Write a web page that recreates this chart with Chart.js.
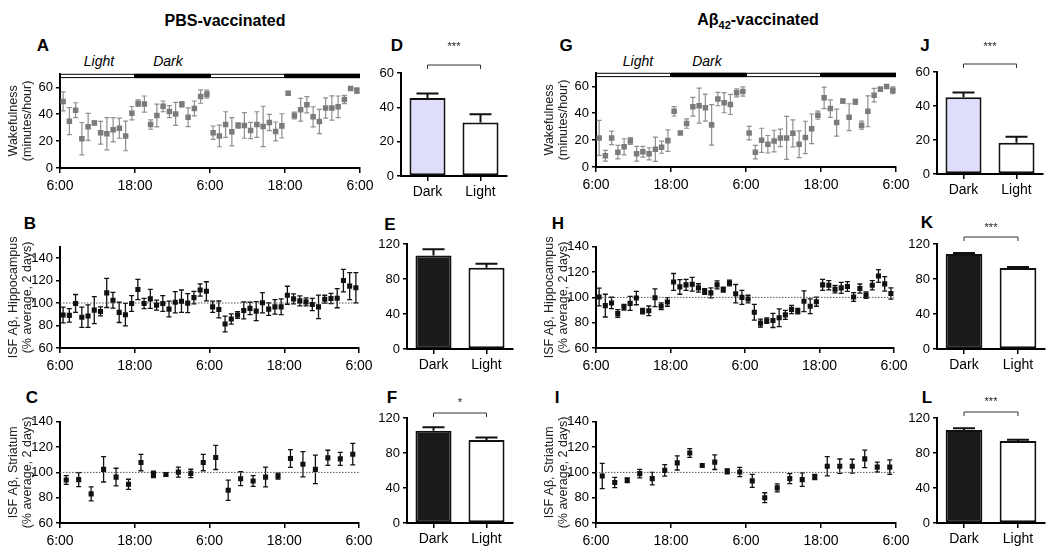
<!DOCTYPE html>
<html>
<head>
<meta charset="utf-8">
<script src="https://cdn.jsdelivr.net/npm/chart.js@4/dist/chart.umd.min.js"></script>
<style>
  body { margin: 0; width: 1050px; height: 548px; overflow: hidden; background: #fff; position: relative;
         font-family: 'Liberation Sans', Arial, sans-serif; }
  canvas { position: absolute; }
  .t { position: absolute; transform: translate(-50%, -50%); white-space: nowrap; color: #000; }
  .head { font-weight: bold; font-size: 16px; }
  .lbl { font-weight: bold; font-size: 17px; }
  .ld { font-style: italic; font-size: 14px; }
</style>
</head>
<body>
<div class="t head" style="left:225px;top:21px">PBS-vaccinated</div>
<div class="t head" style="left:758px;top:21px">Aβ<sub style="font-size:11px">42</sub>-vaccinated</div>

<div class="t lbl" style="left:43px;top:46px">A</div>
<div class="t lbl" style="left:30px;top:224px">B</div>
<div class="t lbl" style="left:32px;top:398px">C</div>
<div class="t lbl" style="left:397px;top:46px">D</div>
<div class="t lbl" style="left:390px;top:225px">E</div>
<div class="t lbl" style="left:392px;top:398px">F</div>
<div class="t lbl" style="left:566px;top:46px">G</div>
<div class="t lbl" style="left:558px;top:224px">H</div>
<div class="t lbl" style="left:557px;top:398px">I</div>
<div class="t lbl" style="left:925px;top:46px">J</div>
<div class="t lbl" style="left:927px;top:223px">K</div>
<div class="t lbl" style="left:927px;top:398px">L</div>

<div class="t ld" style="left:99px;top:61px">Light</div>
<div class="t ld" style="left:168px;top:61px">Dark</div>
<div class="t ld" style="left:638px;top:61px">Light</div>
<div class="t ld" style="left:707px;top:61px">Dark</div>

<script>
// time axis (hours from 6:00 on day 1)
const timeTicks = ['6:00', '18:00', '6:00', '18:00', '6:00'];
const phases = ['Light', 'Dark', 'Light', 'Dark'];
const phaseEdges = [0, 12, 24, 36, 48];
const wakeTicks = [0, 20, 40, 60];
const isfTicks = [60, 80, 100, 120, 140];

const hourly = [0.5, 1.5, 2.5, 3.5, 4.5, 5.5, 6.5, 7.5, 8.5, 9.5, 10.5, 11.5,
  12.5, 13.5, 14.5, 15.5, 16.5, 17.5, 18.5, 19.5, 20.5, 21.5, 22.5, 23.5,
  24.5, 25.5, 26.5, 27.5, 28.5, 29.5, 30.5, 31.5, 32.5, 33.5, 34.5, 35.5,
  36.5, 37.5, 38.5, 39.5, 40.5, 41.5, 42.5, 43.5, 44.5, 45.5, 46.5, 47.5];
const twoHourly = [1, 3, 5, 7, 9, 11, 13, 15, 17, 19, 21, 23,
  25, 27, 29, 31, 33, 35, 37, 39, 41, 43, 45, 47];

// PBS-vaccinated
const wakePBS = [49.5, 34.8, 43, 21.8, 30.6, 33.5, 26.2, 25.5, 28.4, 29.6, 23.8, 40.7,
  48.2, 47.5, 32.3, 39, 45.8, 41.9, 40.2, 47.3, 37.7, 44.3, 53.1, 54.9,
  26.2, 23.8, 32.3, 27, 31.6, 31.6, 27.9, 32.3, 30.9, 33.8, 27.2, 31.3,
  55.6, 39, 43.3, 47, 38, 34.5, 44.6, 44.6, 45.5, 50.9, 59, 57.5];
const wakePBSErr = [7, 10, 5.5, 12, 10, 1.5, 8.5, 12, 9, 7.5, 11, 5,
  2.5, 6, 3.5, 8.5, 4, 4.5, 8.5, 2, 7, 5.5, 5, 3,
  5, 8, 9.5, 10.5, 2, 9.5, 6, 9.5, 15, 6, 7, 9,
  0, 2.5, 8.5, 6, 7.5, 9, 7.5, 9, 8, 3, 0, 2];
const hippPBS = [89.3, 89, 99.6, 87.3, 88.4, 93.7, 92.5, 109, 102.5, 91.7, 89.6, 99.6,
  112, 99.6, 103.7, 98.1, 99.6, 94.6, 100.7, 101.6, 99.9, 104.8, 111.6, 110.4,
  96.6, 94.3, 81.4, 85.8, 89.3, 93.4, 95.2, 92.8, 100.2, 94.6, 96.6, 96.6,
  106.9, 103.7, 101.9, 101, 98.7, 96.6, 103.4, 104, 104.3, 120, 115, 113.6];
const hippPBSErr = [7, 6, 8, 9, 10, 12, 4, 13, 7, 9, 10, 7,
  9, 4.5, 8.5, 4.5, 7, 7, 9.5, 10, 8.5, 5.5, 5.5, 8.5,
  5, 7.5, 7, 4.5, 3, 7.5, 5.5, 8.5, 9, 5.5, 6.5, 7,
  8, 4.5, 4.5, 3.5, 5.5, 10.5, 3.5, 4.5, 8.5, 10, 12, 13.5];
const striPBS = [94, 94.3, 83, 102.4, 96.3, 90.6, 107.8, 98.4, 98.4, 100.2, 99.2, 107.8,
  111.8, 85.9, 95, 93.2, 96.3, 97.1, 111, 106.5, 102.4, 111.5, 110.7, 114.4];
const striPBSErr = [3.5, 5.5, 5.5, 10, 7, 4, 6.5, 2.5, 1.5, 4, 3.3, 6.5,
  9.5, 8, 5.5, 4.3, 7.8, 2.3, 7, 10, 11.3, 6, 5.2, 8.5];

// Abeta42-vaccinated
const wakeAb = [21.6, 8.3, 21.6, 11, 15, 19.3, 9.8, 11.3, 9.8, 13.2, 14.7, 19.6,
  41.4, 25.2, 32.3, 44.8, 45.6, 44.1, 31.3, 50.5, 47.8, 46.5, 55.1, 56.1,
  25.2, 11, 19.8, 16.9, 19.3, 21.6, 21.6, 25, 16.9, 22, 28.4, 38.5,
  51.4, 43.4, 33, 49, 37, 48.5, 31.1, 41.4, 53.4, 57.8, 59.8, 57];
const wakeAbErr = [13, 4, 5, 5, 6, 2.5, 5.5, 4, 4.5, 9, 4.5, 8,
  3.5, 0, 3.5, 7, 13, 10, 15, 5, 7.5, 7.5, 3, 3.5,
  5, 5, 9, 6.5, 8, 6.5, 16, 10, 10, 12, 11, 3,
  8, 6.5, 10, 1.5, 10, 2, 3, 11.5, 5, 1.5, 0, 2.5];
const hippAb = [100.3, 93.5, 95.6, 87.3, 92.2, 95.3, 99.5, 89.1, 89.4, 99.7, 93, 96.4,
  112.2, 108.3, 109.9, 110.4, 107.5, 104.7, 103.6, 109.9, 106.2, 111.4, 102.9, 100,
  98.7, 88.3, 79.7, 81.6, 81.8, 83.9, 86.2, 90.4, 89.1, 96.9, 93, 96.6,
  109.9, 109.6, 106.5, 107.5, 108.6, 100.3, 107, 101.8, 109.6, 116.9, 110.7, 103.1];
const hippAbErr = [7, 9, 4.5, 3, 2.2, 5.5, 5.3, 2.2, 3.8, 7, 2.6, 3.4,
  6.7, 5.8, 4.3, 5.5, 3.3, 2.3, 3.9, 3.2, 2, 2.3, 7.3, 5.5,
  3, 6.2, 3.1, 2.2, 5.6, 7, 3.6, 3.2, 2.2, 8.2, 5.8, 3.6,
  4.3, 3.6, 2.9, 4.3, 3.9, 3.5, 3.6, 2.6, 3.6, 5, 5.7, 4.5];
const striAb = [97.1, 92, 93.8, 99, 95.1, 101.6, 107.5, 115.3, 105.5, 108.1, 100.8, 100.3,
  93.3, 80, 87.8, 95.1, 94.3, 96.4, 104.9, 104.9, 104.9, 110.7, 104.2, 104.2];
const striAbErr = [10, 4, 1.8, 3.4, 4.9, 4.5, 5.6, 3.5, 0, 5.8, 2, 3.6,
  5.2, 3.9, 3.2, 3.9, 5.3, 2, 7.6, 5.7, 5.5, 6.9, 3.9, 5.7];

const refLevel = 100;

// dark / light averages
const barCats = ['Dark', 'Light'];
const barD = [45.5, 31.1], barDErr = [2.5, 4.9];
const barE = [107, 93], barEErr = [7, 4.5];
const barF = [105.5, 94.8], barFErr = [3.8, 3];
const barJ = [45.1, 18.4], barJErr = [2.9, 3.5];
const barK = [108.5, 92.5], barKErr = [1.2, 1.1];
const barL = [106.3, 93.7], barLErr = [1.9, 1.5];

Chart.defaults.font.family = "'Liberation Sans', Arial, sans-serif";
Chart.defaults.color = '#000';
Chart.defaults.animation = false;

// error bars drawn from the dataset's own scale
const errorBars = {
  id: 'errorBars',
  beforeDatasetsDraw(chart) {
    const ctx = chart.ctx;
    chart.data.datasets.forEach((ds, di) => {
      if (!ds.errors) return;
      const meta = chart.getDatasetMeta(di);
      const ys = chart.scales[meta.yAxisID];
      ctx.save();
      ctx.strokeStyle = ds.errColor;
      ctx.lineWidth = ds.errWidth;
      meta.data.forEach((el, i) => {
        const e = ds.errors[i];
        if (!e) return;
        const raw = ds.data[i];
        const v = typeof raw === 'object' ? raw.y : raw;
        const yt = ys.getPixelForValue(v + e);
        const yb = ds.errUp ? ys.getPixelForValue(v) : ys.getPixelForValue(v - e);
        const c = ds.errCap;
        ctx.beginPath();
        ctx.moveTo(el.x, yb); ctx.lineTo(el.x, yt);
        ctx.moveTo(el.x - c, yt); ctx.lineTo(el.x + c, yt);
        if (!ds.errUp) { ctx.moveTo(el.x - c, yb); ctx.lineTo(el.x + c, yb); }
        ctx.stroke();
      });
      ctx.restore();
    });
  }
};

// light/dark strip along the top of the wakefulness plots
const phaseStrip = {
  id: 'phaseStrip',
  afterDatasetsDraw(chart, args, opts) {
    if (!opts || !opts.on) return;
    const x = chart.scales.x, y = chart.scales.y, ctx = chart.ctx;
    const yT = y.getPixelForValue(70), yB = y.getPixelForValue(66.8);
    ctx.save();
    phases.forEach((p, i) => {
      const x0 = x.getPixelForValue(phaseEdges[i]), x1 = x.getPixelForValue(phaseEdges[i + 1]);
      ctx.fillStyle = p === 'Dark' ? '#000' : '#fff';
      ctx.fillRect(x0, yT, x1 - x0, yB - yT);
      ctx.strokeStyle = '#000';
      ctx.lineWidth = 1;
      ctx.strokeRect(x0 + 0.5, yT + 0.5, x1 - x0 - 1, yB - yT - 1);
    });
    ctx.restore();
  }
};

// significance bracket over the two bars
const sigBracket = {
  id: 'sigBracket',
  afterDraw(chart, args, opts) {
    if (!opts || !opts.text) return;
    const meta = chart.getDatasetMeta(0);
    const x0 = meta.data[0].x, x1 = meta.data[1].x;
    const yb = chart.chartArea.top - opts.gap;
    const ctx = chart.ctx;
    ctx.save();
    ctx.strokeStyle = '#333';
    ctx.lineWidth = 1;
    ctx.beginPath();
    ctx.moveTo(x0, yb + 4); ctx.lineTo(x0, yb); ctx.lineTo(x1, yb); ctx.lineTo(x1, yb + 4);
    ctx.stroke();
    ctx.fillStyle = '#222';
    ctx.font = "11px 'Liberation Sans', Arial, sans-serif";
    ctx.textAlign = 'center';
    ctx.textBaseline = 'middle';
    ctx.fillText(opts.text, (x0 + x1) / 2, yb - opts.textGap);
    ctx.restore();
  }
};

Chart.register(errorBars, phaseStrip, sigBracket);

function makeCanvas(area, yW, xH, pad) {
  const c = document.createElement('canvas');
  const left = Math.round(area[0] - yW - pad.l);
  const top = Math.round(area[1] - pad.t);
  const w = Math.round(area[2] + pad.r) - left;
  const h = Math.round(area[3] + xH + pad.b) - top;
  c.width = w; c.height = h;
  c.style.left = left + 'px'; c.style.top = top + 'px';
  c.style.width = w + 'px'; c.style.height = h + 'px';
  document.body.appendChild(c);
  return c;
}

function timeChart(area, yMin, yMax, yTicks, title, xs, ys, errs, dark, withRef, withPhases) {
  const yW = 58, xH = 30;
  const canvas = makeCanvas(area, yW, xH, {l: 0, t: 10, r: 22, b: 0});
  const col = dark ? '#111' : '#7b7b7b';
  const datasets = [{
    type: 'scatter',
    data: xs.map((x, i) => ({x: x, y: ys[i]})),
    errors: errs,
    errColor: dark ? '#111' : '#8f8f8f',
    errWidth: dark ? 1.3 : 1.2,
    errCap: 2.5,
    pointStyle: 'rect',
    pointRadius: dark ? 3.6 : 3.9,
    backgroundColor: col,
    borderColor: col,
    borderWidth: 0,
    order: 0
  }];
  if (withRef) {
    datasets.push({
      type: 'line',
      data: [{x: 0, y: refLevel}, {x: 48, y: refLevel}],
      borderColor: '#555',
      borderWidth: 1,
      borderDash: [1.5, 1.5],
      pointRadius: 0,
      order: 1
    });
  }
  return new Chart(canvas, {
    type: 'scatter',
    data: {datasets: datasets},
    options: {
      responsive: false,
      animation: false,
      layout: {padding: {left: 0, top: 10, right: 22, bottom: 0}},
      plugins: {legend: {display: false}, tooltip: {enabled: false}, phaseStrip: {on: withPhases}},
      scales: {
        x: {
          type: 'linear', min: 0, max: 48,
          ticks: {stepSize: 12, autoSkip: false, maxRotation: 0, padding: 5,
                  font: {size: 14}, color: '#000',
                  callback: v => timeTicks[Math.round(v / 12)]},
          grid: {drawOnChartArea: false, drawTicks: true, tickLength: 5, color: '#000', lineWidth: 1.5},
          border: {color: '#000', width: 2},
          afterFit: s => { s.height = xH; }
        },
        y: {
          min: yMin, max: yMax,
          afterBuildTicks: s => { s.ticks = yTicks.map(v => ({value: v})); },
          ticks: {font: {size: 13}, color: '#000', padding: 3, autoSkip: false,
                  callback: v => String(v)},
          grid: {drawOnChartArea: false, tickLength: 4, color: '#000', lineWidth: 1.5},
          border: {color: '#000', width: 2},
          title: {display: true, text: title, font: {size: 12.5, lineHeight: 1.1}, color: '#222',
                  padding: {top: 4.5, bottom: 0}},
          afterFit: s => { s.width = yW; }
        }
      }
    }
  });
}

function barChart(area, yMax, step, vals, errs, darkFill, sig) {
  const yW = 28, xH = 28;
  const canvas = makeCanvas(area, yW, xH, {l: 0, t: 34, r: 8, b: 0});
  new Chart(canvas, {
    type: 'bar',
    data: {
      labels: barCats,
      datasets: [{
        data: vals,
        errors: errs,
        errUp: true,
        errColor: '#111',
        errWidth: 2,
        errCap: 11,
        backgroundColor: [darkFill, '#fff'],
        borderColor: '#111',
        borderWidth: 2,
        borderSkipped: false,
        barPercentage: 0.68,
        categoryPercentage: 1
      }]
    },
    options: {
      responsive: false,
      animation: false,
      layout: {padding: {left: 0, top: 34, right: 8, bottom: 0}},
      plugins: {legend: {display: false}, tooltip: {enabled: false}, sigBracket: sig || {}},
      scales: {
        x: {
          ticks: {font: {size: 14}, color: '#000', padding: 3},
          grid: {offset: false, drawOnChartArea: false, tickLength: 5, color: '#000', lineWidth: 1.5},
          border: {color: '#000', width: 2},
          afterFit: s => { s.height = xH; }
        },
        y: {
          min: 0, max: yMax,
          ticks: {stepSize: step, font: {size: 13}, color: '#000', padding: 3},
          grid: {drawOnChartArea: false, tickLength: 4, color: '#000', lineWidth: 1.5},
          border: {color: '#000', width: 2},
          afterFit: s => { s.width = yW; }
        }
      }
    }
  });
}

const wakeTitle = ['Wakefulness', '(minutes/hour)'];
const hippTitle = ['ISF Aβ, Hippocampus', '(% average, 2 days)'];
const striTitle = ['ISF Aβ, Striatum', '(% average, 2 days)'];

timeChart([60, 73, 360, 168], 0, 70, wakeTicks, wakeTitle, hourly, wakePBS, wakePBSErr, false, false, true);
timeChart([60, 246, 359, 348], 60, 150, isfTicks, hippTitle, hourly, hippPBS, hippPBSErr, true, true, false);
timeChart([60, 421, 359, 523], 60, 140, isfTicks, striTitle, twoHourly, striPBS, striPBSErr, true, true, false);
timeChart([596, 72, 896, 167], 0, 70, wakeTicks, wakeTitle, hourly, wakeAb, wakeAbErr, false, false, true);
timeChart([596, 246, 894, 348], 60, 140, isfTicks, hippTitle, hourly, hippAb, hippAbErr, true, true, false);
timeChart([596, 421, 896, 523], 60, 140, isfTicks, striTitle, twoHourly, striAb, striAbErr, true, true, false);

barChart([401, 73, 507, 176], 60, 20, barD, barDErr, '#dedefa', {text: '***', gap: 8, textGap: 18});
barChart([407, 244, 513, 349], 120, 40, barE, barEErr, '#1a1a1a', null);
barChart([407, 418, 513, 523], 120, 40, barF, barFErr, '#1a1a1a', {text: '*', gap: 5, textGap: 10});
barChart([937, 72, 1043, 174], 60, 20, barJ, barJErr, '#dedefa', {text: '***', gap: 8, textGap: 17});
barChart([937, 244, 1045, 349], 120, 40, barK, barKErr, '#1a1a1a', {text: '***', gap: 7, textGap: 9});
barChart([937, 418, 1045, 523], 120, 40, barL, barLErr, '#1a1a1a', {text: '***', gap: 6, textGap: 10});
</script>
</body>
</html>
